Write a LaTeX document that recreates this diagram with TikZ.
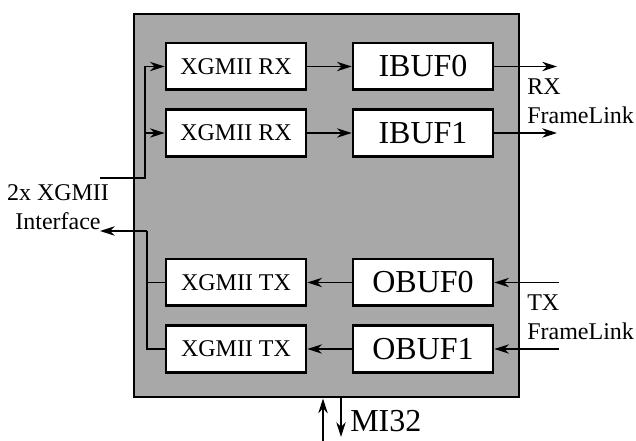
\documentclass[tikz,border=0pt]{standalone}
\usepackage{fontspec}
\setmainfont{Liberation Serif}
\usetikzlibrary{arrows.meta, positioning, calc}
\definecolor{boardgray}{RGB}{168, 168, 168}

\tikzset{
  blk/.style={draw, line width=2pt, fill=white, minimum width=105pt, minimum height=35pt, inner sep=0pt, font=\fontsize{18}{22}\selectfont},
  bufblk/.style={blk, font=\fontsize{24}{28}\selectfont},
  wire/.style={line width=1.3pt},
  sig/.style={wire, -{Stealth[length=11pt, width=7pt, inset=3.5pt]}},
  lbl/.style={align=left, inner sep=0pt, font=\fontsize{18}{22}\selectfont}
}

\begin{document}
\begin{tikzpicture}[x=0.75pt, y=-0.75pt]
  \useasboundingbox (0,0) rectangle (636,441);

  % board
  \node[draw, line width=2.2pt, fill=boardgray, minimum width=288.75pt, minimum height=287.25pt, inner sep=0pt] (fpga) at (326.5,205.5) {};

  % receive path
  \node[blk] (rx0) at (236,66.5) {XGMII RX};
  \node[blk] (rx1) at (236,133) {XGMII RX};
  \node[bufblk] (ib0) at (423,66.5) {IBUF0};
  \node[bufblk] (ib1) at (423,133) {IBUF1};

  % transmit path
  \node[blk] (tx0) at (236,282.5) {XGMII TX};
  \node[blk] (tx1) at (236,349) {XGMII TX};
  \node[bufblk] (ob0) at (423,282.5) {OBUF0};
  \node[bufblk] (ob1) at (423,349) {OBUF1};

  % free ends
  \coordinate (xin) at (100,178);
  \coordinate (rxbus) at (145,178);
  \coordinate (xout) at (100,231);
  \coordinate (txbus) at (147,231);
  \coordinate (rxout0) at (557,66.5);
  \coordinate (rxout1) at (557,133);
  \coordinate (txin0) at (559,282.5);
  \coordinate (txin1) at (559,349);
  \coordinate (miin) at (323,441);
  \coordinate (miout) at (341,437);

  % interface wiring
  \draw[wire] (xin) -- (rxbus) -- (rxbus |- rx1.west);
  \draw[sig] (rxbus |- rx1.west) |- (rx0.west);
  \draw[sig] (rxbus |- rx1.west) -- (rx1.west);
  \draw[sig] (txbus) -- (xout);
  \draw[wire] (tx0.west) -| (txbus);
  \draw[wire] (tx1.west) -| (txbus);

  \draw[sig] (rx0) -- (ib0);
  \draw[sig] (rx1) -- (ib1);
  \draw[sig] (ob0) -- (tx0);
  \draw[sig] (ob1) -- (tx1);

  \draw[sig] (ib0) -- (rxout0);
  \draw[sig] (ib1) -- (rxout1);
  \draw[sig] (txin0) -- (ob0);
  \draw[sig] (txin1) -- (ob1);

  \draw[sig] (miin) -- (miin |- fpga.south);
  \draw[sig] (miout |- fpga.south) -- (miout);

  % labels
  \node[lbl, align=center] (xgmiilbl) at (58,207) {2x XGMII\\Interface};
  \node[lbl, anchor=west] (rxlbl) at (527,101) {RX\\FrameLink};
  \node[lbl, anchor=west] (txlbl) at (527,317) {TX\\FrameLink};
  \node[inner sep=0pt, anchor=west, font=\fontsize{24}{28}\selectfont] (milbl) at (350,421) {MI32};
\end{tikzpicture}
\end{document}
